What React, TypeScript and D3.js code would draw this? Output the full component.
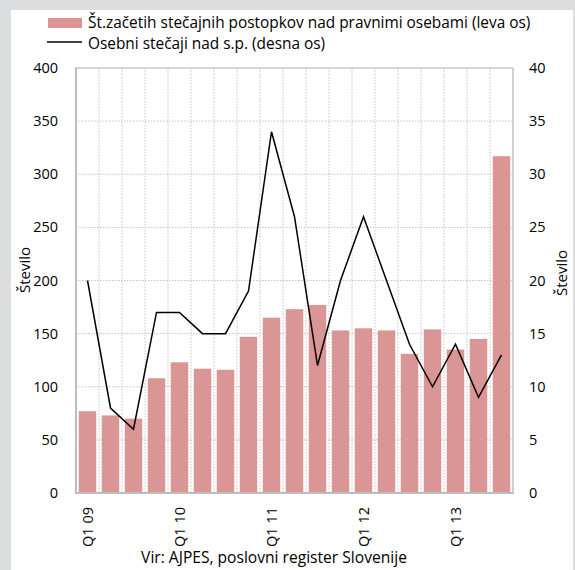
import React from "react";
import * as d3 from "d3";

const categories = [
  "Q1 09", "Q2 09", "Q3 09", "Q4 09",
  "Q1 10", "Q2 10", "Q3 10", "Q4 10",
  "Q1 11", "Q2 11", "Q3 11", "Q4 11",
  "Q1 12", "Q2 12", "Q3 12", "Q4 12",
  "Q1 13", "Q2 13", "Q3 13",
];
const shownLabels = ["Q1 09", "Q1 10", "Q1 11", "Q1 12", "Q1 13"];
const barValues = [77, 73, 70, 108, 123, 117, 116, 147, 165, 173, 177, 153, 155, 153, 131, 154, 135, 145, 317];
const lineValues = [20, 8, 6, 17, 17, 15, 15, 19, 34, 26, 12, 20, 26, 20, 14, 10, 14, 9, 13];
const leftTicks = [0, 50, 100, 150, 200, 250, 300, 350, 400];
const rightTicks = [0, 5, 10, 15, 20, 25, 30, 35, 40];
const barLabel = "Št.začetih stečajnih postopkov nad pravnimi osebami (leva os)";
const lineLabel = "Osebni stečaji nad s.p. (desna os)";
const axisTitle = "Število";
const source = "Vir: AJPES, poslovni register Slovenije";

const W = 575, H = 570;
const L = 76, R = 513, T = 68, B = 493;
const FONT = "'Open Sans', 'Noto Sans', sans-serif";
const BAR = "#d99694";
const GRID = "#c4c4c4";

export default function App() {
  const x = d3.scaleBand<string>().domain(categories).range([L, R]).paddingInner(0.24).paddingOuter(0.12);
  const band = d3.scaleBand<string>().domain(categories).range([L, R]);
  const yL = d3.scaleLinear().domain([0, 400]).range([B, T]);
  const yR = d3.scaleLinear().domain([0, 40]).range([B, T]);
  const line = d3.line<number>()
    .x((_, i) => (band(categories[i]) as number) + band.bandwidth() / 2)
    .y((d) => yR(d));

  return (
    <svg width={W} height={H} style={{ position: "absolute", left: 0, top: 0 }} fontFamily={FONT}>
      <rect x={0} y={0} width={W} height={H} fill="#dcdddf" />
      <rect x={11} y={10} width={562} height={H - 10} fill="#ffffff" />

      {/* legend */}
      <rect x={48} y={18} width={34} height={10} fill={BAR} />
      <text x={88} y={28} fontSize={15.4} fill="#000">{barLabel}</text>
      <line x1={47} x2={82} y1={42} y2={42} stroke="#000" strokeWidth={1.3} />
      <text x={88} y={48.5} fontSize={15.4} fill="#000">{lineLabel}</text>

      {/* gridlines */}
      {leftTicks.slice(1, -1).map((t) => (
        <line key={"h" + t} x1={L} x2={R} y1={yL(t)} y2={yL(t)} stroke={GRID} strokeWidth={1} strokeDasharray="1.5,1.5" />
      ))}
      {categories.slice(1).map((c) => (
        <line key={"v" + c} x1={band(c) as number} x2={band(c) as number} y1={T} y2={B} stroke={GRID} strokeWidth={1} strokeDasharray="1.5,1.5" />
      ))}

      {/* bars */}
      {barValues.map((v, i) => (
        <rect key={"b" + i} x={x(categories[i]) as number} y={yL(v)} width={x.bandwidth()} height={B - yL(v)} fill={BAR} />
      ))}

      {/* line */}
      <path d={line(lineValues) as string} fill="none" stroke="#000" strokeWidth={1.5} strokeLinejoin="miter" />

      {/* frame */}
      <line x1={L} x2={R} y1={T} y2={T} stroke="#c8c8c8" strokeWidth={1.5} />
      <line x1={R} x2={R} y1={T} y2={B} stroke="#c0c0c0" strokeWidth={1.5} />
      <line x1={L} x2={L} y1={T - 0.75} y2={B + 1} stroke="#bdbdbd" strokeWidth={2} />
      <line x1={L - 1} x2={R + 0.75} y1={B} y2={B} stroke="#bdbdbd" strokeWidth={2} />

      {/* left ticks */}
      {leftTicks.map((t) => (
        <text key={"lt" + t} x={58} y={yL(t)} dy="0.35em" textAnchor="end" fontSize={14.5} fill="#000">{t}</text>
      ))}
      {/* right ticks */}
      {rightTicks.map((t) => (
        <text key={"rt" + t} x={529} y={yR(t)} dy="0.35em" textAnchor="start" fontSize={14.5} fill="#000">{t}</text>
      ))}

      {/* axis titles */}
      <text transform={`translate(30,270) rotate(-90)`} textAnchor="middle" fontSize={15} fill="#000">{axisTitle}</text>
      <text transform={`translate(567,273) rotate(-90)`} textAnchor="middle" fontSize={15} fill="#000">{axisTitle}</text>

      {/* x labels */}
      {shownLabels.map((c) => {
        const cx = (band(c) as number) + band.bandwidth() / 2;
        return (
          <text key={"xl" + c} transform={`translate(${cx + 5},507) rotate(-90)`} textAnchor="end" fontSize={14.5} fill="#000">{c}</text>
        );
      })}

      <text x={274} y={563} textAnchor="middle" fontSize={15.6} fill="#000">{source}</text>
    </svg>
  );
}
